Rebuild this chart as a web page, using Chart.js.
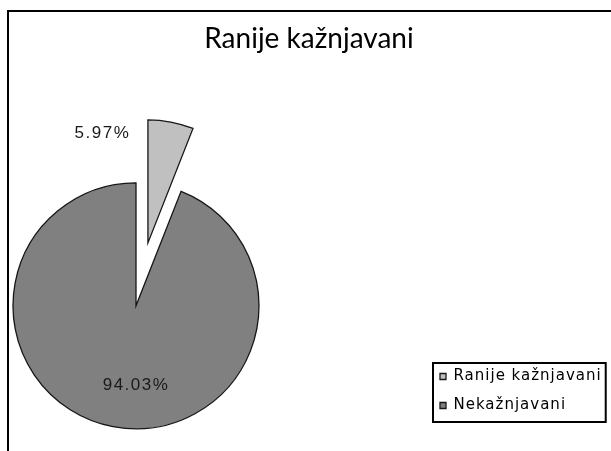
<!DOCTYPE html>
<html>
<head>
<meta charset="utf-8">
<script src="https://cdn.jsdelivr.net/npm/chart.js@4/dist/chart.umd.min.js"></script>
<style>
  html, body { margin: 0; padding: 0; background: #ffffff; }
  #wrap { position: relative; width: 611px; height: 451px; }
</style>
</head>
<body>
<div id="wrap"><canvas id="c" width="611" height="451"></canvas></div>
<script>
// ---- data ----
const chartTitle = 'Ranije kažnjavani';
const categories = ['Ranije kažnjavani', 'Nekažnjavani'];
const values = [5.97, 94.03];
const sliceColors = ['#c0c0c0', '#808080'];
const explode = [64, 0];   // slice pull-out distance (px)

// label placement relative to each slice's own centre, in units of radius (style only)
const labelDX = [-0.37, 0.0];
const labelDY = [-0.89, 0.65];

const LEGEND_SPACING = '1px';

const framePlugin = {
  id: 'frame',
  beforeDraw(chart) {
    const ctx = chart.ctx;
    ctx.save();
    ctx.fillStyle = '#ffffff';
    ctx.fillRect(0, 0, chart.width, chart.height);
    ctx.strokeStyle = '#000000';
    ctx.lineWidth = 2;
    ctx.strokeRect(8, 11, 800, 800);
    ctx.restore();
  }
};

// explode slices along their bisector, using the library's own arc angles
const explodePlugin = {
  id: 'explode',
  afterDatasetsUpdate(chart) {
    const meta = chart.getDatasetMeta(0);
    meta.data.forEach((arc, i) => {
      const d = explode[i];
      if (!d) return;
      const mid = (arc.startAngle + arc.endAngle) / 2;
      arc.x += Math.cos(mid) * d;
      arc.y += Math.sin(mid) * d;
    });
  }
};

const placeBoxes = {
  id: 'placeBoxes',
  beforeLayout(chart) {
    try { chart.ctx.letterSpacing = LEGEND_SPACING; } catch (e) {}
  },
  afterLayout(chart) {
    try { chart.ctx.letterSpacing = '0px'; } catch (e) {}
    const t = chart.titleBlock;
    if (t) { t.left = 7; t.right = 611; t.width = 604; }
    const l = chart.legend;
    if (l) {
      const w = l.width, h = l.height;
      l.left = 426; l.right = 426 + w;
      l.top = 355; l.bottom = 355 + h;
      if (!l._spacedDraw) {
        const orig = l.draw;
        l.draw = function () {
          const ctx = this.ctx;
          ctx.save();
          try { ctx.letterSpacing = LEGEND_SPACING; } catch (e) {}
          orig.apply(this, arguments);
          ctx.restore();
        };
        l._spacedDraw = true;
      }
    }
  }
};

const legendBorder = {
  id: 'legendBorder',
  afterDraw(chart) {
    const l = chart.legend;
    if (!l || !l.legendHitBoxes || !l.legendHitBoxes.length) return;
    const hb = l.legendHitBoxes;
    let minL = Infinity, maxR = -Infinity;
    hb.forEach(b => { minL = Math.min(minL, b.left); maxR = Math.max(maxR, b.left + b.width); });
    const top = hb[0].top - 6;
    const last = hb[hb.length - 1];
    const bottom = last.top + last.height + 9;
    const ctx = chart.ctx;
    ctx.save();
    ctx.strokeStyle = '#000000';
    ctx.lineWidth = 2;
    ctx.strokeRect(minL - 7, top, (maxR + 4) - (minL - 7), bottom - top);
    ctx.restore();
  }
};

const pctLabels = {
  id: 'pctLabels',
  afterDatasetsDraw(chart) {
    const meta = chart.getDatasetMeta(0);
    const ctx = chart.ctx;
    ctx.save();
    ctx.font = '17px "Liberation Sans", Arial, sans-serif';
    try { ctx.letterSpacing = '1.5px'; } catch (e) {}
    ctx.fillStyle = '#1a1a1a';
    ctx.textAlign = 'center';
    ctx.textBaseline = 'middle';
    meta.data.forEach((arc, i) => {
      const r = arc.outerRadius;
      const x = arc.x + labelDX[i] * r;
      const y = arc.y + labelDY[i] * r;
      ctx.fillText(values[i].toFixed(2) + '%', x, y);
    });
    ctx.restore();
  }
};

new Chart(document.getElementById('c'), {
  type: 'pie',
  data: {
    labels: categories,
    datasets: [{
      data: values,
      backgroundColor: sliceColors,
      borderColor: '#161616',
      borderWidth: 1.3,
      borderJoinStyle: 'miter',
      hoverOffset: 0,
      clip: false
    }]
  },
  options: {
    responsive: false,
    devicePixelRatio: 1,
    animation: false,
    radius: 123,
    layout: { padding: { left: 10, right: 349, top: 0, bottom: 19 } },
    plugins: {
      title: {
        display: true,
        text: chartTitle,
        color: '#000000',
        font: { family: 'Lato', size: 28, weight: 'normal' },
        padding: { top: 22, bottom: 124 }
      },
      legend: {
        display: true,
        position: 'chartArea',
        align: 'start',
        labels: {
          boxWidth: 6,
          boxHeight: 6,
          padding: 14,
          color: '#000000',
          font: { family: 'DejaVu Sans', size: 15 }
        }
      },
      tooltip: { enabled: false }
    }
  },
  plugins: [framePlugin, explodePlugin, placeBoxes, legendBorder, pctLabels]
});
</script>
</body>
</html>
